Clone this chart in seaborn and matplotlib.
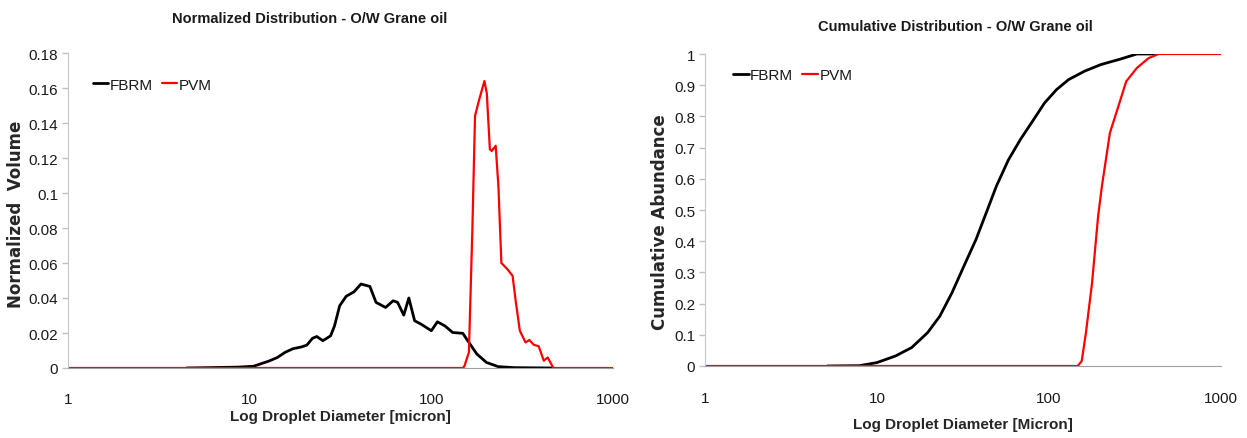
import numpy as np
import pandas as pd
import matplotlib
matplotlib.use("Agg")
import matplotlib.pyplot as plt
import seaborn as sns

# ---- data ----
fbrm_norm_x = [1, 4.5, 8.6, 10.5, 12.8, 14.2, 15.7, 17.3, 19.2, 20.6, 22.2, 23.4, 25.3, 27.9, 29.3,
               31.3, 34.0, 37.5, 41.0, 45.9, 49.6, 56.0, 61.6, 65.2, 70.5, 75.2, 80.9, 88.0, 100,
               108, 119, 131, 149, 161, 178, 201, 233, 285, 470]
fbrm_norm_y = [0, 0, 0.0005, 0.001, 0.004, 0.006, 0.009, 0.011, 0.012, 0.013, 0.017, 0.018, 0.0156,
               0.0184, 0.024, 0.0356, 0.041, 0.0435, 0.048, 0.0466, 0.0375, 0.0346, 0.0384, 0.0375,
               0.0302, 0.040, 0.027, 0.025, 0.0213, 0.0264, 0.024, 0.0203, 0.0198, 0.0146, 0.008,
               0.0032, 0.0008, 0.0002, 0]
fbrm_norm_start = 4.5

pvm_norm_x = [1, 149, 152, 161, 168, 174, 183, 196, 202, 210, 215, 226, 234, 243, 262, 280, 292,
              307, 330, 346, 366, 390, 416, 437, 470, 1000]
pvm_norm_y = [0, 0, 0.001, 0.009, 0.077, 0.144, 0.153, 0.164, 0.157, 0.125, 0.124, 0.127, 0.104,
              0.060, 0.0565, 0.0527, 0.0375, 0.0213, 0.0146, 0.016, 0.0133, 0.0124, 0.0042, 0.006,
              0, 0]

fbrm_cum_x = [5.15, 7.9, 10, 12.8, 15.9, 19.7, 23.2, 27.3, 32.0, 37.6, 43.1, 49.4, 58.0, 68.2, 80.1,
              94.2, 110.7, 130, 161, 200, 261, 324, 420]
fbrm_cum_y = [0, 0.001, 0.011, 0.032, 0.059, 0.107, 0.16, 0.235, 0.32, 0.405, 0.49, 0.576, 0.66,
              0.726, 0.784, 0.843, 0.886, 0.918, 0.945, 0.966, 0.984, 1.0, 1.0]

pvm_cum_x = [1, 147, 155, 164, 178, 193, 203, 226, 253, 281, 324, 380, 434, 1000]
pvm_cum_y = [0, 0, 0.016, 0.107, 0.267, 0.48, 0.576, 0.747, 0.832, 0.912, 0.955, 0.987, 1.0, 1.0]

norm_yticks = [0, 0.02, 0.04, 0.06, 0.08, 0.1, 0.12, 0.14, 0.16, 0.18]
norm_yticklabels = ["0", "0.02", "0.04", "0.06", "0.08", "0.1", "0.12", "0.14", "0.16", "0.18"]
cum_yticks = [0, 0.1, 0.2, 0.3, 0.4, 0.5, 0.6, 0.7, 0.8, 0.9, 1.0]
cum_yticklabels = ["0", "0.1", "0.2", "0.3", "0.4", "0.5", "0.6", "0.7", "0.8", "0.9", "1"]
xticks = [1, 10, 100, 1000]
xticklabels = ["1", "10", "100", "1000"]

sns.set_style("white")
BASE = ["Liberation Sans", "DejaVu Sans"]
plt.rcParams["font.family"] = BASE
plt.rcParams["text.color"] = "#1a1a1a"

fig = plt.figure(figsize=(12.47, 4.39), dpi=100)
axL = fig.add_axes([68 / 1247, 1 - 369 / 439, 545 / 1247, 315 / 439])
axR = fig.add_axes([705 / 1247, 1 - 367 / 439, 516 / 1247, 312 / 439])

dfL_f = pd.DataFrame({"x": fbrm_norm_x, "y": fbrm_norm_y})
dfL_f = dfL_f[dfL_f["x"] >= fbrm_norm_start]
dfL_p = pd.DataFrame({"x": pvm_norm_x, "y": pvm_norm_y})
dfR_f = pd.DataFrame({"x": fbrm_cum_x, "y": fbrm_cum_y})
dfR_p = pd.DataFrame({"x": pvm_cum_x, "y": pvm_cum_y})

for ax, dff, dfp in [(axL, dfL_f, dfL_p), (axR, dfR_f, dfR_p)]:
    sns.lineplot(data=dff, x="x", y="y", ax=ax, color="black", linewidth=2.0,
                 label="FBRM", sort=False, estimator=None)
    sns.lineplot(data=dfp, x="x", y="y", ax=ax, color="#ff0000", linewidth=1.6,
                 label="PVM", sort=False, estimator=None)
    ax.set_xscale("log")
    ax.set_xlim(1, 1000)
    ax.set_xticks(xticks)
    ax.set_xticklabels(xticklabels)
    ax.minorticks_off()
    ax.tick_params(axis="x", direction="in", length=4, width=1, color="#a0a0a0",
                   labelsize=11, pad=17, labelcolor="#1a1a1a")
    ax.tick_params(axis="y", direction="out", length=4, width=1, color="#c0c0c0",
                   labelsize=11, pad=3, left=True, labelcolor="#1a1a1a")
    for s in ["top", "right"]:
        ax.spines[s].set_visible(False)
    ax.spines["left"].set_color("#c8c8c8")
    ax.spines["bottom"].set_color("#a0a0a0")
    ax.grid(False)

axL.set_ylim(0, 0.18)
axL.set_yticks(norm_yticks)
axL.set_yticklabels(norm_yticklabels)
axR.set_ylim(0, 1.0)
axR.set_yticks(cum_yticks)
axR.set_yticklabels(cum_yticklabels)
axR.tick_params(axis="x", pad=18)

# axis labels
axL.set_xlabel("Log Droplet Diameter [micron]", fontsize=11, fontweight="bold")
axL.xaxis.set_label_coords(0.499, -0.152)
axL.xaxis.label.set_va("center")
axR.set_xlabel("Log Droplet Diameter [Micron]", fontsize=11, fontweight="bold")
axR.xaxis.set_label_coords(0.5, -0.186)
axR.xaxis.label.set_va("center")

axL.set_ylabel("Normalized  Volume", fontsize=12, fontweight="bold", family=["DejaVu Sans"])
axL.yaxis.set_label_coords(-0.095, 0.49)
axL.yaxis.label.set_va("center")
axR.set_ylabel("Cumulative Abundance", fontsize=12, fontweight="bold", family=["DejaVu Sans"])
axR.yaxis.set_label_coords(-0.087, 0.465)
axR.yaxis.label.set_va("center")

# titles
fig.text(310 / 1247, 1 - 19 / 439, "Normalized Distribution - O/W Grane oil",
         ha="center", va="center", fontsize=10.5, fontweight="bold")
fig.text(955 / 1247, 1 - 27 / 439, "Cumulative Distribution - O/W Grane oil",
         ha="center", va="center", fontsize=10.5, fontweight="bold")

# legends
for ax, anchor in [(axL, (0.045, 0.90)), (axR, (0.055, 0.933))]:
    leg = ax.legend(loc="center left", bbox_to_anchor=anchor, ncol=2, frameon=False,
                    handlelength=1.0, handletextpad=0.1, columnspacing=0.6,
                    fontsize=11, borderaxespad=0, borderpad=0)

fig.savefig("out.png", dpi=100)
